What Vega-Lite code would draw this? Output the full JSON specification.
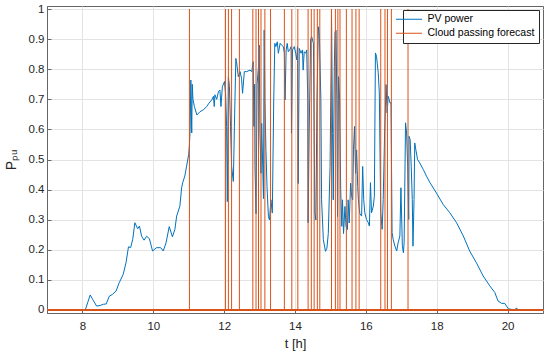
{
  "$schema": "https://vega.github.io/schema/vega-lite/v6.json",
  "width": 496,
  "height": 307,
  "autosize": "none",
  "padding": {"left": 47, "top": 6, "right": 7, "bottom": 42},
  "background": "white",
  "datasets": {
    "pv": [
      {"t": 7.0, "p": 0}, {"t": 8.08, "p": 0}, {"t": 8.22, "p": 0.05}, {"t": 8.29, "p": 0.035}, {"t": 8.4, "p": 0.013},
      {"t": 8.5, "p": 0.015}, {"t": 8.59, "p": 0.019}, {"t": 8.67, "p": 0.02}, {"t": 8.76, "p": 0.046}, {"t": 8.85, "p": 0.052},
      {"t": 8.95, "p": 0.063}, {"t": 9.04, "p": 0.091}, {"t": 9.15, "p": 0.118}, {"t": 9.23, "p": 0.157}, {"t": 9.3, "p": 0.21},
      {"t": 9.36, "p": 0.207}, {"t": 9.42, "p": 0.235}, {"t": 9.48, "p": 0.29}, {"t": 9.56, "p": 0.27}, {"t": 9.61, "p": 0.279},
      {"t": 9.67, "p": 0.245}, {"t": 9.74, "p": 0.232}, {"t": 9.81, "p": 0.245}, {"t": 9.89, "p": 0.237}, {"t": 9.98, "p": 0.196},
      {"t": 10.09, "p": 0.207}, {"t": 10.21, "p": 0.207}, {"t": 10.28, "p": 0.196}, {"t": 10.36, "p": 0.223}, {"t": 10.45, "p": 0.277},
      {"t": 10.54, "p": 0.243}, {"t": 10.61, "p": 0.268}, {"t": 10.66, "p": 0.312}, {"t": 10.75, "p": 0.345}, {"t": 10.8, "p": 0.406},
      {"t": 10.83, "p": 0.423}, {"t": 10.89, "p": 0.445}, {"t": 10.94, "p": 0.478}, {"t": 11.0, "p": 0.517}, {"t": 11.02, "p": 0.55},
      {"t": 11.04, "p": 0.6}, {"t": 11.06, "p": 0.764}, {"t": 11.085, "p": 0.588}, {"t": 11.1, "p": 0.75}, {"t": 11.12, "p": 0.7},
      {"t": 11.16, "p": 0.676}, {"t": 11.23, "p": 0.648}, {"t": 11.32, "p": 0.659}, {"t": 11.41, "p": 0.665}, {"t": 11.51, "p": 0.676},
      {"t": 11.57, "p": 0.687}, {"t": 11.65, "p": 0.698}, {"t": 11.7, "p": 0.71}, {"t": 11.72, "p": 0.676}, {"t": 11.74, "p": 0.715},
      {"t": 11.79, "p": 0.7}, {"t": 11.84, "p": 0.726}, {"t": 11.88, "p": 0.731}, {"t": 11.91, "p": 0.676}, {"t": 11.95, "p": 0.742},
      {"t": 12.01, "p": 0.759}, {"t": 12.04, "p": 0.72}, {"t": 12.07, "p": 0.61}, {"t": 12.09, "p": 0.36}, {"t": 12.12, "p": 0.775},
      {"t": 12.15, "p": 0.742}, {"t": 12.18, "p": 0.61}, {"t": 12.21, "p": 0.477}, {"t": 12.26, "p": 0.427}, {"t": 12.29, "p": 0.61},
      {"t": 12.33, "p": 0.836}, {"t": 12.35, "p": 0.825}, {"t": 12.4, "p": 0.775}, {"t": 12.45, "p": 0.792}, {"t": 12.49, "p": 0.77},
      {"t": 12.52, "p": 0.72}, {"t": 12.57, "p": 0.792}, {"t": 12.64, "p": 0.792}, {"t": 12.73, "p": 0.797}, {"t": 12.78, "p": 0.792},
      {"t": 12.82, "p": 0.825}, {"t": 12.84, "p": 0.61}, {"t": 12.86, "p": 0.75}, {"t": 12.87, "p": 0.48}, {"t": 12.9, "p": 0.32},
      {"t": 12.93, "p": 0.75}, {"t": 12.97, "p": 0.81}, {"t": 12.99, "p": 0.88}, {"t": 13.01, "p": 0.587}, {"t": 13.04, "p": 0.454},
      {"t": 13.06, "p": 0.62}, {"t": 13.11, "p": 0.37}, {"t": 13.13, "p": 0.93}, {"t": 13.15, "p": 0.698}, {"t": 13.18, "p": 0.53},
      {"t": 13.21, "p": 0.41}, {"t": 13.25, "p": 0.31}, {"t": 13.28, "p": 0.299}, {"t": 13.32, "p": 0.366}, {"t": 13.36, "p": 0.322},
      {"t": 13.4, "p": 0.698}, {"t": 13.43, "p": 0.886}, {"t": 13.46, "p": 0.875}, {"t": 13.5, "p": 0.891}, {"t": 13.53, "p": 0.853},
      {"t": 13.58, "p": 0.886}, {"t": 13.62, "p": 0.88}, {"t": 13.67, "p": 0.875}, {"t": 13.7, "p": 0.853}, {"t": 13.72, "p": 0.698},
      {"t": 13.75, "p": 0.864}, {"t": 13.78, "p": 0.886}, {"t": 13.81, "p": 0.858}, {"t": 13.85, "p": 0.864}, {"t": 13.89, "p": 0.875},
      {"t": 13.9, "p": 0.587}, {"t": 13.93, "p": 0.864}, {"t": 13.98, "p": 0.875}, {"t": 14.02, "p": 0.853}, {"t": 14.05, "p": 0.831},
      {"t": 14.07, "p": 0.875}, {"t": 14.09, "p": 0.42}, {"t": 14.12, "p": 0.869}, {"t": 14.17, "p": 0.853}, {"t": 14.21, "p": 0.864},
      {"t": 14.23, "p": 0.797}, {"t": 14.26, "p": 0.858}, {"t": 14.3, "p": 0.853}, {"t": 14.33, "p": 0.864}, {"t": 14.36, "p": 0.7},
      {"t": 14.37, "p": 0.29}, {"t": 14.4, "p": 0.587}, {"t": 14.44, "p": 0.897}, {"t": 14.47, "p": 0.908}, {"t": 14.52, "p": 0.886},
      {"t": 14.56, "p": 0.322}, {"t": 14.59, "p": 0.299}, {"t": 14.62, "p": 0.698}, {"t": 14.66, "p": 0.941}, {"t": 14.69, "p": 0.908},
      {"t": 14.73, "p": 0.698}, {"t": 14.75, "p": 0.366}, {"t": 14.8, "p": 0.234}, {"t": 14.86, "p": 0.195}, {"t": 14.9, "p": 0.205},
      {"t": 14.94, "p": 0.254}, {"t": 14.99, "p": 0.477}, {"t": 15.02, "p": 0.808}, {"t": 15.03, "p": 0.996}, {"t": 15.06, "p": 0.587},
      {"t": 15.08, "p": 0.366}, {"t": 15.11, "p": 0.808}, {"t": 15.13, "p": 0.924}, {"t": 15.16, "p": 0.929}, {"t": 15.18, "p": 0.698},
      {"t": 15.2, "p": 0.31}, {"t": 15.23, "p": 0.775}, {"t": 15.26, "p": 0.698}, {"t": 15.29, "p": 0.4}, {"t": 15.32, "p": 0.278},
      {"t": 15.34, "p": 0.366}, {"t": 15.37, "p": 0.254}, {"t": 15.41, "p": 0.344}, {"t": 15.44, "p": 0.278}, {"t": 15.48, "p": 0.267},
      {"t": 15.5, "p": 0.366}, {"t": 15.53, "p": 0.289}, {"t": 15.57, "p": 0.421}, {"t": 15.6, "p": 0.377}, {"t": 15.63, "p": 0.366},
      {"t": 15.65, "p": 0.532}, {"t": 15.68, "p": 0.61}, {"t": 15.71, "p": 0.454}, {"t": 15.74, "p": 0.532}, {"t": 15.77, "p": 0.41},
      {"t": 15.79, "p": 0.366}, {"t": 15.83, "p": 0.32}, {"t": 15.88, "p": 0.312}, {"t": 15.91, "p": 0.477}, {"t": 15.94, "p": 0.366},
      {"t": 15.97, "p": 0.323}, {"t": 16.02, "p": 0.3}, {"t": 16.07, "p": 0.29}, {"t": 16.1, "p": 0.279}, {"t": 16.13, "p": 0.423},
      {"t": 16.16, "p": 0.323}, {"t": 16.21, "p": 0.345}, {"t": 16.24, "p": 0.378}, {"t": 16.27, "p": 0.854}, {"t": 16.3, "p": 0.843},
      {"t": 16.35, "p": 0.788}, {"t": 16.38, "p": 0.721}, {"t": 16.42, "p": 0.323}, {"t": 16.46, "p": 0.268}, {"t": 16.49, "p": 0.367},
      {"t": 16.53, "p": 0.588}, {"t": 16.57, "p": 0.749}, {"t": 16.6, "p": 0.655}, {"t": 16.63, "p": 0.71}, {"t": 16.66, "p": 0.699},
      {"t": 16.68, "p": 0.688}, {"t": 16.71, "p": 0.688}, {"t": 16.74, "p": 0.257}, {"t": 16.77, "p": 0.235}, {"t": 16.82, "p": 0.212},
      {"t": 16.87, "p": 0.196}, {"t": 16.91, "p": 0.223}, {"t": 16.96, "p": 0.246}, {"t": 16.99, "p": 0.406}, {"t": 17.03, "p": 0.212},
      {"t": 17.06, "p": 0.19}, {"t": 17.08, "p": 0.223}, {"t": 17.12, "p": 0.622}, {"t": 17.15, "p": 0.588}, {"t": 17.18, "p": 0.478},
      {"t": 17.21, "p": 0.301}, {"t": 17.22, "p": 0.577}, {"t": 17.25, "p": 0.566}, {"t": 17.28, "p": 0.478}, {"t": 17.31, "p": 0.367},
      {"t": 17.33, "p": 0.212}, {"t": 17.36, "p": 0.367}, {"t": 17.38, "p": 0.555}, {"t": 17.41, "p": 0.533}, {"t": 17.46, "p": 0.5},
      {"t": 17.52, "p": 0.489}, {"t": 17.62, "p": 0.467}, {"t": 17.71, "p": 0.445}, {"t": 17.81, "p": 0.423}, {"t": 17.99, "p": 0.389},
      {"t": 18.18, "p": 0.351}, {"t": 18.37, "p": 0.323}, {"t": 18.56, "p": 0.29}, {"t": 18.75, "p": 0.246}, {"t": 18.93, "p": 0.196},
      {"t": 19.12, "p": 0.157}, {"t": 19.31, "p": 0.113}, {"t": 19.5, "p": 0.08}, {"t": 19.64, "p": 0.058}, {"t": 19.73, "p": 0.03},
      {"t": 19.83, "p": 0.022}, {"t": 19.92, "p": 0.022}, {"t": 20.02, "p": 0.004}, {"t": 20.11, "p": 0.002}, {"t": 20.2, "p": 0},
      {"t": 20.25, "p": 0.007}, {"t": 20.3, "p": 0}
    ],
    "cloud": [
      {"t": 11.02}, {"t": 12.04}, {"t": 12.12}, {"t": 12.21}, {"t": 12.43}, {"t": 12.81}, {"t": 12.9}, {"t": 12.97},
      {"t": 13.04}, {"t": 13.15}, {"t": 13.31}, {"t": 13.7}, {"t": 13.91}, {"t": 14.08}, {"t": 14.37}, {"t": 14.46},
      {"t": 14.54}, {"t": 14.63}, {"t": 14.7}, {"t": 15.03}, {"t": 15.14}, {"t": 15.21}, {"t": 15.27}, {"t": 15.45},
      {"t": 15.61}, {"t": 15.72}, {"t": 15.81}, {"t": 16.42}, {"t": 16.54}, {"t": 16.61}, {"t": 16.72}, {"t": 17.19}
    ]
  },
  "layer": [
    {
      "data": {"name": "pv"},
      "mark": {"type": "line", "strokeWidth": 1, "clip": true},
      "encoding": {
        "x": {
          "field": "t", "type": "quantitative",
          "scale": {"domain": [7, 21], "nice": false, "zero": false},
          "axis": {"values": [8, 10, 12, 14, 16, 18, 20], "title": "t [h]", "labelPadding": 11, "titlePadding": 6}
        },
        "y": {
          "field": "p", "type": "quantitative",
          "scale": {"domain": [-0.01, 1.01], "nice": false, "zero": false},
          "axis": {"values": [0, 0.1, 0.2, 0.3, 0.4, 0.5, 0.6, 0.7, 0.8, 0.9, 1], "format": "~g", "title": "Pₚᵤ", "labelPadding": 7, "titlePadding": 10, "titleFontSize": 14, "labelOverlap": false, "tickCount": 11}
        },
        "color": {"datum": "PV power", "type": "nominal"}
      }
    },
    {
      "data": {"name": "cloud"},
      "mark": {"type": "rule", "strokeWidth": 1},
      "encoding": {
        "x": {"field": "t", "type": "quantitative"},
        "y": {"datum": 0, "axis": {"values": [0, 0.1, 0.2, 0.3, 0.4, 0.5, 0.6, 0.7, 0.8, 0.9, 1], "format": "~g", "title": "Pₚᵤ", "labelPadding": 7, "titlePadding": 10, "titleFontSize": 14, "labelOverlap": false, "tickCount": 11}},
        "y2": {"datum": 1},
        "color": {"datum": "Cloud passing forecast", "type": "nominal"}
      }
    },
    {
      "data": {"name": "cloud"},
      "mark": {"type": "rule", "strokeWidth": 1.5},
      "encoding": {
        "y": {"datum": 0},
        "color": {"datum": "Cloud passing forecast", "type": "nominal"}
      }
    }
  ],
  "config": {
    "view": {"stroke": "#666666", "strokeWidth": 1},
    "font": "Liberation Sans",
    "range": {"category": ["#0072BD", "#D95319"]},
    "axis": {
      "domainColor": "#666666",
      "tickColor": "#666666",
      "tickSize": -4,
      "gridColor": "#e3e3e3",
      "grid": true,
      "labelColor": "#262626",
      "titleColor": "#262626",
      "labelFont": "Liberation Sans",
      "titleFont": "Liberation Sans",
      "labelFontSize": 11.5,
      "titleFontSize": 13,
      "titleFontWeight": "normal"
    },
    "legend": {
      "title": null,
      "orient": "top-right",
      "offset": 4,
      "padding": 4,
      "strokeColor": "#262626",
      "fillColor": "white",
      "symbolType": "M-7.5,0H4.5",
      "symbolSize": 19,
      "symbolStrokeWidth": 1,
      "labelFont": "Liberation Sans",
      "labelFontSize": 10.5,
      "labelColor": "#000000",
      "labelOffset": 10,
      "rowPadding": 3
    }
  }
}
